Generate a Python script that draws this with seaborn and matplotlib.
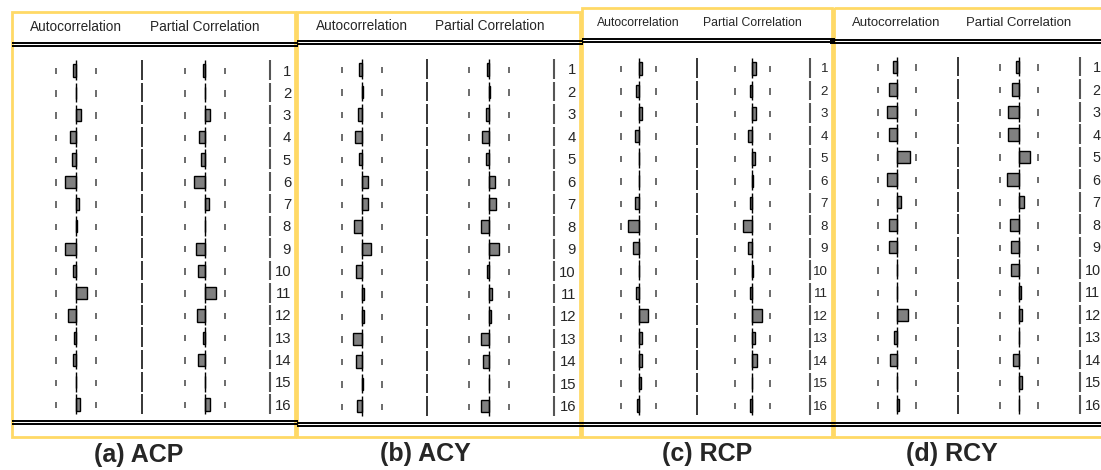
import numpy as np
import pandas as pd
import seaborn as sns
import matplotlib.pyplot as plt
from matplotlib import font_manager
from matplotlib.patches import Rectangle

# correlogram values (lags 1..16)
lags = list(range(1, 17))
acp_ac = [-0.03, -0.005, 0.05, -0.06, -0.04, -0.11, 0.03, 0.005, -0.11, -0.03, 0.11, -0.08, -0.025, -0.03, -0.005, 0.04]
acp_pac = [-0.025, 0.003, 0.05, -0.06, -0.04, -0.11, 0.035, 0.003, -0.09, -0.07, 0.11, -0.08, -0.025, -0.07, -0.005, 0.045]
acy_ac = [-0.03, 0.005, -0.04, -0.07, -0.03, 0.06, 0.06, -0.08, 0.09, -0.06, 0.015, 0.015, -0.09, -0.06, 0.005, -0.05]
acy_pac = [-0.025, 0.005, -0.035, -0.07, -0.035, 0.055, 0.065, -0.08, 0.10, -0.02, 0.03, 0.02, -0.08, -0.06, -0.005, -0.08]
rcp_ac = [0.038, -0.03, 0.035, -0.042, 0.003, 0.003, -0.038, -0.118, -0.06, 0.003, -0.027, 0.10, 0.034, 0.034, 0.023, -0.015]
rcp_pac = [0.037, -0.022, 0.037, -0.045, 0.026, 0.005, -0.022, -0.11, -0.045, 0.005, -0.022, 0.105, 0.026, 0.048, -0.005, -0.022]
rcy_ac = [-0.034, -0.076, -0.097, -0.083, 0.138, -0.097, 0.041, -0.083, -0.083, 0.005, 0.003, 0.12, -0.03, -0.065, 0.003, 0.024]
rcy_pac = [-0.028, -0.074, -0.11, -0.11, 0.12, -0.126, 0.05, -0.09, -0.084, -0.084, 0.02, 0.03, 0.003, -0.056, 0.03, 0.003]
bound = 0.2  # confidence band drawn as short ticks

panel_names = ["(a) ACP", "(b) ACY", "(c) RCP", "(d) RCY"]
ac_values = [acp_ac, acy_ac, rcp_ac, rcy_ac]
pac_values = [acp_pac, acy_pac, rcp_pac, rcy_pac]

sns.set_style("white")
names = {f.name for f in font_manager.fontManager.ttflist}
if "Liberation Sans Narrow" in names:
    narrow = ["Liberation Sans Narrow", "DejaVu Sans"]
    nscale = 1.0
else:
    narrow = ["Liberation Sans", "DejaVu Sans"]
    nscale = 0.84
plt.rcParams["font.family"] = ["Liberation Sans", "DejaVu Sans"]

W, H = 1101, 470
fig = plt.figure(figsize=(W / 100, H / 100), dpi=100)
bg = fig.add_axes([0, 0, 1, 1])
bg.set_xlim(0, W)
bg.set_ylim(H, 0)
bg.axis("off")

# pixel layout of each panel
layout = [
    dict(box=(12, 12, 295, 437), rule=(12, 298), top=42.5, bot=421, y1=70.5, y16=404.5,
         ac=76, pac=205, bw=20, sep=142, right=270, lagx=291, head=27, fs=11.7, title=(139, 455)),
    dict(box=(297, 12, 580, 437), rule=(297, 583), top=40.7, bot=423.3, y1=69.5, y16=406.3,
         ac=362, pac=489.3, bw=20, sep=426.7, right=554, lagx=576, head=26, fs=11.7, title=(425, 454)),
    dict(box=(582, 8, 832, 437), rule=(582, 835), top=39.3, bot=422.7, y1=68.5, y16=405.5,
         ac=638.7, pac=752.3, bw=17.6, sep=696.7, right=810, lagx=828, head=23.3, fs=10.5, title=(707.5, 454)),
    dict(box=(834, 8, 1106, 437), rule=(830, 1101), top=40, bot=423.3, y1=67, y16=405,
         ac=896.7, pac=1018.7, bw=19.2, sep=958.3, right=1080, lagx=1100.5, head=23.3, fs=11.3, title=(952, 454)),
]

for p, name, acv, pacv in zip(layout, panel_names, ac_values, pac_values):
    x0, y0, x1, y1b = p["box"]
    bg.add_patch(Rectangle((x0, y0), x1 - x0, y1b - y0, fill=False, edgecolor="#FFD966", lw=2))
    for yy in (p["top"], p["top"] + 3, p["bot"], p["bot"] + 3):
        bg.hlines(yy, p["rule"][0], p["rule"][1], color="black", lw=1.4)
    bg.text(p["ac"], p["head"], "Autocorrelation", ha="center", va="center",
            family=narrow, fontsize=p["fs"] * nscale)
    bg.text(p["pac"], p["head"], "Partial Correlation", ha="center", va="center",
            family=narrow, fontsize=p["fs"] * nscale)
    s = (p["y16"] - p["y1"]) / 15
    ys = p["y1"] + s * np.arange(16)
    bg.vlines(np.full(16, p["sep"]), ys - 0.46 * s, ys + 0.42 * s, color="black", lw=1.1)
    bg.vlines(np.full(16, p["right"]), ys - 0.46 * s, ys + 0.42 * s, color="#555555", lw=1.5)
    for yy, lag in zip(ys, lags):
        bg.text(p["lagx"], yy + 1, str(lag), ha="right", va="center",
                family=narrow, fontsize=p["fs"] * 0.92)
    bg.text(p["title"][0], p["title"][1], name, ha="center", va="center",
            fontsize=18, fontweight="bold")

    for center, vals in ((p["ac"], acv), (p["pac"], pacv)):
        half = 2 * p["bw"]
        ax = fig.add_axes([(center - half) / W, 1 - (p["y16"] + s / 2) / H,
                           2 * half / W, 16 * s / H])
        df = pd.DataFrame({"lag": lags, "r": vals})
        sns.barplot(data=df, x="r", y="lag", orient="h", color="#808080", saturation=1,
                    edgecolor="black", linewidth=1, width=0.55, ax=ax)
        ax.set_xlim(-2 * bound, 2 * bound)
        ax.set_ylim(15.5, -0.5)
        pos = np.arange(16)
        ax.vlines(np.zeros(16), pos - 0.46, pos + 0.42, color="black", lw=1.0, zorder=3)
        for b in (-bound, bound):
            ax.vlines(np.full(16, b), pos - 0.12, pos + 0.17, color="#444444", lw=1.1)
        ax.axis("off")
        ax.patch.set_alpha(0)

fig.savefig("out.png", dpi=100)
